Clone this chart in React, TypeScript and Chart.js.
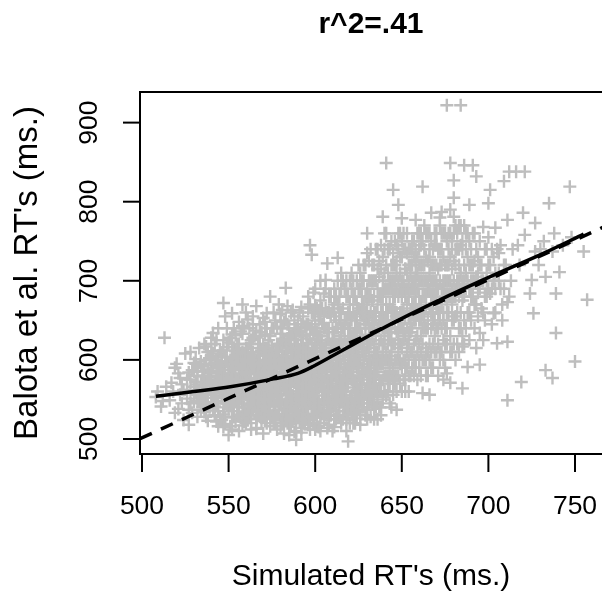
import React, { useEffect, useRef } from "react";
import { Chart, registerables } from "chart.js";

Chart.register(...registerables);

const titleText = "r^2=.41";
const xAxisTitle = "Simulated RT's (ms.)";
const yAxisTitle = "Balota et al. RT's (ms.)";
const xTicks = [500, 550, 600, 650, 700, 750];
const yTicks = [500, 600, 700, 800, 900];
const xRange = [498.85, 767.9];
const yRange = [481, 938.7];

// lowess smooth (solid)
const lowessCurve: [number, number][] = [
  [508, 554], [530, 560], [551, 566], [576, 576], [590, 583], [599, 592],
  [614, 610], [634, 634], [647, 649], [675, 679], [704, 708], [733, 736], [755, 759],
];

// reference line (dashed)
const identityLine: [number, number][] = [[498.85, 500.3], [767.9, 769.4]];

// word RTs: simulated (x) vs Balota et al. (y) — outer part of the cloud
const wordPointsOuter: [number, number][] = [
  [508,553],[513,628],[511,541],[514,566],[509,560],[512,548],
  [519,533],[521,583],[524,524],[517,571],[522,556],[520,595],[523,545],[518,560],[525,608],[516,549],[522,577],[524,562],[519,590],[521,538],[523,569],
  [527,518],[528,575],[528,610],[530,547],[532,590],[526,562],[534,572],[529,533],[531,601],[533,555],[527,584],[535,540],[530,566],[532,528],[534,598],[526,551],[529,587],[531,560],[533,615],[528,545],[535,579],[530,596],[532,569],[527,537],[534,551],
  [537,617],[537,528],[541,634],[544,516],[536,560],[538,588],[540,546],[542,573],[539,602],[543,555],[545,590],[536,534],[538,571],[540,611],[542,541],[544,567],[539,583],[541,552],[543,600],[537,545],[545,575],[536,595],[538,523],[540,563],[542,620],[544,548],[539,578],[541,536],[543,586],[545,559],[537,571],[540,593],[542,530],[544,604],[538,556],
  [547,672],[552,659],[553,640],[550,505],[551,516],[546,580],[548,545],[549,598],[551,562],[553,528],[554,611],[546,553],[547,625],[548,570],[550,538],[552,587],[554,550],[555,575],[546,607],[548,519],[549,560],[550,592],[551,544],[553,578],[554,631],[555,541],[546,566],[547,531],[549,616],[550,572],[551,600],[552,548],[553,565],[555,597],[546,524],[548,587],[549,554],[551,583],[552,512],[553,604],[554,569],[547,591],[550,557],[552,535],[555,620],
  [561,651],[558,643],[557,528],[556,578],[560,556],[562,600],[564,539],[559,585],[563,566],[556,613],[557,551],[558,595],[559,522],[560,574],[561,609],[562,545],[563,588],[564,628],[565,561],[556,540],[557,583],[558,565],[559,605],[560,532],[561,571],[562,620],[563,550],[564,593],[565,577],[556,596],[557,568],[558,517],[559,557],[560,615],[561,543],[562,582],[563,535],[564,569],[565,602],[556,555],[558,633],[559,578],[560,591],[561,526],[562,559],[563,610],[564,547],[565,586],[557,600],[566,513],
  [570,653],[572,659],[566,514],[574,516],[567,575],[568,598],[569,545],[570,620],[571,562],[572,584],[573,533],[574,607],[575,570],[566,590],[567,552],[568,528],[569,612],[570,578],[571,540],[572,600],[573,566],[574,591],[575,548],[566,637],[567,583],[568,560],[569,523],[570,594],[571,615],[572,551],[573,578],[574,536],[575,603],[566,565],[567,607],[568,542],[569,588],[570,556],[571,632],[572,520],[573,596],[574,572],[575,585],[566,548],[567,530],[568,580],[569,565],[570,541],[571,598],[572,571],[573,625],[574,558],[575,529],[568,645],[573,548],
  [583,691],[581,663],[582,507],[576,555],[577,590],[578,620],[579,537],[580,574],[581,601],[582,562],[583,545],[584,612],[585,580],[576,527],[577,567],[578,598],[579,550],[580,633],[581,583],[582,524],[583,592],[584,557],[585,640],[576,610],[577,541],[578,575],[579,602],[580,516],[581,569],[582,623],[583,536],[584,586],[585,560],[576,585],[577,650],[578,548],[579,578],[580,592],[581,532],[582,604],[583,571],[584,540],[585,597],[576,567],[577,520],[578,612],[579,562],[580,546],[581,640],[582,580],[583,556],[584,627],[585,531],[579,670],[584,520],[577,600],[580,560],[582,589],[585,548],[578,530],
  [587,663],[592,667],[589,499],[588,509],[586,582],[587,545],[588,610],[589,566],[590,527],[591,598],[592,553],[593,630],[594,575],[595,540],[586,604],[587,522],[588,571],[589,640],[590,590],[591,548],[592,618],[593,562],[594,528],[595,596],[586,556],[587,590],[588,536],[589,583],[590,650],[591,565],[592,514],[593,605],[594,551],[595,621],[586,630],[587,574],[588,550],[589,600],[590,537],[591,580],[592,593],[593,543],[594,612],[595,568],[586,519],[587,612],[588,588],[589,530],[590,560],[591,635],[592,575],[593,520],[594,590],[595,555],[586,570],[588,625],[590,608],[592,540],[594,560],[586,545],[589,552],[591,522],[593,585],[595,645],[590,575],
  [597,745],[598,733],[600,669],[596,620],[601,516],[605,684],[603,700],[596,560],[597,590],[598,540],[599,612],[600,575],[601,548],[602,630],[603,566],[604,595],[605,527],[596,580],[597,525],[598,605],[599,558],[600,640],[601,590],[602,535],[603,618],[604,550],[605,572],[596,598],[597,563],[598,575],[599,520],[600,603],[601,545],[602,587],[603,655],[604,610],[605,560],[596,538],[597,627],[598,552],[599,588],[600,530],[601,622],[602,568],[603,540],[604,580],[605,602],[596,645],[597,545],[598,660],[599,575],[600,555],[601,600],[602,515],[603,583],[604,532],[605,640],[599,685],[601,570],[603,510],[597,608],[604,665],[600,595],[602,548],[598,585],
  [607,722],[606,701],[613,729],[607,514],[606,550],[607,590],[608,625],[609,565],[610,540],[611,608],[612,580],[613,530],[614,650],[615,595],[606,620],[607,560],[608,545],[609,600],[610,575],[611,525],[612,640],[613,585],[614,555],[615,615],[606,580],[607,640],[608,595],[609,535],[610,620],[611,560],[612,545],[613,605],[614,575],[615,520],[606,530],[607,605],[608,570],[609,655],[610,590],[611,580],[612,610],[613,550],[614,595],[615,565],[606,665],[608,518],[609,585],[610,560],[611,690],[612,525],[613,670],[614,540],[615,630],[606,600],[608,680],[610,510],[612,575],[614,610],[607,575],[609,548],[611,635],[613,565],[615,548],[610,640],[612,595],
  [615,710],[619,497],[624,526],[616,560],[617,600],[618,545],[619,625],[620,580],[621,530],[622,660],[623,595],[624,570],[625,615],[616,640],[617,535],[618,610],[619,570],[620,550],[621,600],[622,520],[623,640],[624,590],[625,555],[616,585],[617,570],[618,680],[619,545],[620,610],[621,575],[622,590],[623,535],[624,650],[625,600],[616,525],[617,625],[618,560],[619,595],[620,640],[621,555],[622,615],[623,570],[624,545],[625,580],[616,605],[617,555],[618,590],[619,660],[620,520],[621,690],[622,565],[623,610],[624,620],[625,540],[617,650],[619,580],[621,630],[623,550],[625,665],[618,525],[620,595],[622,545],[624,700],[616,575],[620,670],[623,595],
  [630,760],[632,528],[626,640],[627,580],[628,555],[629,605],[630,690],[631,570],[632,620],[633,545],[634,595],[635,660],[626,530],[627,615],[628,670],[629,560],[630,595],[631,640],[632,580],[633,625],[634,555],[635,600],[626,600],[627,550],[628,590],[629,645],[630,540],[631,605],[632,660],[633,575],[634,620],[635,540],[626,570],[627,680],[628,625],[629,530],[630,615],[631,555],[632,590],[633,700],[634,570],[635,630],[626,660],[627,590],[628,540],[629,610],[630,570],[631,725],[632,550],[633,600],[634,645],[635,585],[626,620],[628,700],[630,650],[632,640],[634,525],[627,630],[629,585],[631,590],[633,655],[635,560],[628,575],[630,525],[634,680],
  [641,849],[645,815],[639,781],[636,740],[645,556],[637,560],[638,600],[639,640],[640,580],[641,690],[642,620],[643,545],[644,660],[636,610],[637,650],[638,570],[639,595],[640,710],[641,555],[642,635],[643,590],[644,580],[645,620],[636,545],[637,595],[638,680],[639,620],[640,560],[641,610],[642,575],[643,700],[644,540],[645,650],[636,670],[637,620],[638,540],[639,660],[640,630],[641,580],[642,690],[643,605],[644,625],[645,590],[636,585],[637,705],[638,625],[639,550],[640,600],[641,650],[642,560],[643,640],[644,600],[645,680],[636,525],[638,650],[640,740],[642,600],[644,720],[637,575],[639,700],
  [647,537],[648,796],[650,779],[646,720],[647,600],[648,650],[649,570],[650,700],[651,625],[652,680],[653,590],[654,655],[655,610],[646,580],[647,690],[648,620],[649,660],[650,595],[651,740],[652,560],[653,640],[654,700],[655,580],[646,640],[647,660],[648,580],[649,620],[650,640],[651,600],[652,715],[653,670],[654,600],[655,690],[646,600],[647,560],[648,700],[649,730],[650,560],[651,665],[652,630],[653,610],[654,560],[655,645],[646,680],[648,610],[650,680],[652,590],[654,635],[647,635],[649,595],[651,575],[653,735],[655,720],[650,615],[652,655],
  [658,777],[662,819],[662,558],[666,556],[656,690],[657,620],[658,650],[659,710],[660,600],[661,670],[662,640],[663,740],[664,615],[665,690],[656,590],[657,730],[658,680],[659,630],[660,720],[661,580],[662,700],[663,655],[664,760],[665,610],[656,640],[657,670],[658,600],[659,690],[660,650],[661,745],[662,620],[663,680],[664,640],[665,725],[656,740],[657,580],[658,710],[659,575],[660,680],[661,630],[663,600],[664,700],[665,650],[656,660],[658,625],[660,590],[662,680],[664,580],[657,700],[661,700],
  [667,786],[673,787],[666,600],[667,680],[668,720],[669,650],[670,745],[671,620],[672,700],[673,670],[674,730],[675,640],[666,710],[667,640],[668,590],[669,760],[670,690],[671,660],[672,740],[673,610],[674,690],[675,720],[666,665],[667,750],[668,680],[669,630],[670,610],[671,715],[672,650],[673,760],[674,660],[675,590],[666,740],[668,645],[670,665],[672,600],[674,625],[669,700],[671,580],[673,720],[675,680],[667,610],[670,720],[672,770],[674,575],
  [676,922],[684,922],[678,849],[680,827],[680,805],[680,781],[678,571],[676,583],[685,564],[676,680],[677,740],[678,700],[679,650],[680,725],[681,690],[682,760],[683,640],[684,710],[685,675],[676,720],[677,660],[678,760],[679,610],[680,680],[681,740],[682,620],[683,700],[684,745],[685,630],[676,640],[678,630],[679,715],[681,655],[682,690],[683,770],[684,660],[677,700],[679,750],[681,600],[683,610],
  [686,846],[691,846],[693,832],[689,796],[688,591],[695,594],[685,617],[686,700],[687,740],[688,660],[689,720],[690,680],[691,760],[692,640],[693,705],[694,730],[686,650],[687,690],[688,760],[689,625],[690,740],[691,700],[692,670],[693,615],[694,685],[695,750],[690,650],[686,770],[692,725],[694,655],
  [697,768],[701,815],[700,798],[704,767],[697,625],[695,634],[705,621],[703,659],[701,684],[696,700],[698,740],[699,680],[700,720],[702,690],[703,730],[704,710],[696,665],[698,650],[700,755],[702,645],[704,690],[699,710],
  [712,838],[709,826],[711,777],[711,549],[711,673],[711,623],[706,700],[707,745],[708,670],[710,720],[713,700],[714,740],[706,735],[709,690],
  [716,838],[721,838],[720,786],[717,745],[721,758],[719,572],[725,701],[726,659],[724,684],[718,720],
  [727,773],[727,737],[733,705],[733,587],[735,798],[730,740],[729,720],[732,750],
  [737,737],[737,577],[739,684],[739,634],[741,711],[738,760],[743,745],
  [747,819],[750,598],[755,737],[757,676],[748,755],
];

// word RTs — dense core of the cloud
const wordPointsCore: [number, number][] = [
  [531,572],[533,548],[535,586],[537,563],[539,540],[531,595],[533,560],[535,553],[537,600],[539,575],[532,580],[534,537],[536,568],[538,610],[540,585],[532,556],[534,592],[536,545],[538,566],[540,605],
  [541,568],[542,596],[543,545],[544,580],[545,612],[546,558],[547,540],[548,603],[549,575],[550,622],[541,590],[542,552],[543,625],[544,535],[545,563],[546,598],[547,577],[548,528],[549,640],[550,583],[541,608],[543,570],[545,528],[547,612],[549,545],
  [551,574],[552,602],[553,550],[554,590],[555,531],[556,620],[557,574],[558,550],[559,640],[560,600],[551,628],[552,566],[553,590],[554,522],[555,608],[556,565],[557,636],[558,582],[559,540],[560,566],[551,545],[552,620],[553,612],[554,575],[555,556],[556,530],[557,593],[558,610],[559,568],[560,520],
  [561,598],[562,570],[563,625],[564,555],[565,540],[566,600],[567,620],[568,570],[569,635],[570,528],[561,560],[562,640],[563,520],[564,610],[565,592],[566,575],[567,545],[568,615],[569,582],[570,605],[561,585],[562,530],[563,575],[564,645],[565,630],[566,530],[567,595],[568,555],[569,555],[570,570],[561,615],[563,600],[565,552],[567,562],[569,528],
  [571,580],[572,615],[573,545],[574,630],[575,560],[576,640],[577,580],[578,555],[579,620],[580,600],[571,550],[572,535],[573,612],[574,585],[575,618],[576,545],[577,612],[578,590],[579,530],[580,545],[571,648],[572,598],[573,562],[574,550],[575,590],[576,598],[577,528],[578,642],[579,595],[580,620],[571,525],[572,568],[573,590],[574,598],[575,640],[576,520],[577,560],[578,568],[579,548],[580,658],
  [581,610],[582,540],[583,620],[584,600],[585,570],[586,595],[587,555],[588,640],[589,580],[590,545],[581,550],[582,648],[583,585],[584,530],[585,615],[586,540],[587,632],[588,575],[589,615],[590,620],[581,625],[582,595],[583,525],[584,645],[585,585],[586,660],[587,528],[588,598],[589,545],[590,595],[581,575],[582,570],[583,605],[584,568],[585,520],[586,615],[587,580],[588,530],[589,625],[590,530],[583,650],[585,630],[587,600],[589,510],[590,640],
  [591,612],[592,590],[593,655],[594,540],[595,610],[596,575],[597,640],[598,620],[599,530],[600,650],[591,585],[592,630],[593,570],[594,600],[595,525],[596,665],[597,555],[598,530],[599,632],[600,620],[591,550],[592,560],[593,532],[594,642],[595,578],[596,590],[597,512],[598,642],[599,600],[600,540],[591,660],[592,605],[593,598],[594,585],[595,632],[596,550],[597,575],[598,565],[599,545],[600,585],[591,530],[592,525],[593,615],[594,520],[595,592],[596,610],[597,670],[598,600],[599,660],[600,512],
  [601,635],[602,600],[603,675],[604,560],[605,615],[606,640],[607,545],[608,605],[609,680],[610,600],[601,560],[602,650],[603,595],[604,625],[605,540],[606,585],[607,660],[608,560],[609,620],[610,550],[601,610],[602,580],[603,528],[604,645],[605,590],[606,560],[607,625],[608,640],[609,530],[610,665],[601,528],[602,660],[603,630],[604,590],[605,655],[606,615],[607,600],[608,535],[609,585],[610,625],[601,665],[602,545],[603,605],[604,575],[605,545],[606,690],[607,535],[608,660],[609,570],[610,580],
  [611,655],[612,620],[613,700],[614,590],[615,640],[616,620],[617,580],[618,650],[619,610],[620,660],[611,590],[612,555],[613,640],[614,625],[615,575],[616,665],[617,640],[618,540],[619,680],[620,545],[611,545],[612,680],[613,600],[614,680],[615,560],[616,550],[617,690],[618,620],[619,540],[620,625],[611,620],[612,650],[613,530],[614,565],[615,660],[616,700],[617,595],[618,575],[619,640],[620,585],[611,670],[612,530],[613,620],[614,660],[615,690],[616,530],[617,545],[618,700],[619,530],[620,700],
  [621,650],[622,700],[623,680],[624,600],[625,640],[626,690],[627,610],[628,650],[629,720],[630,580],[621,590],[622,630],[623,560],[624,670],[625,720],[626,580],[627,660],[628,600],[629,560],[630,670],[621,545],[622,600],[623,625],[624,560],[625,590],[626,640],[627,700],[628,545],[629,680],[630,625],[621,710],[622,575],[623,655],[624,635],[625,560],[626,550],[627,565],[628,720],[629,630],[630,555],[621,615],[622,680],[623,520],[624,605],[625,690],[626,710],[627,540],[628,610],[629,660],[630,735],
  [631,680],[632,700],[633,640],[634,720],[635,610],[636,690],[637,640],[638,715],[639,575],[640,650],[631,620],[632,600],[633,580],[634,660],[635,700],[636,560],[637,680],[638,595],[639,680],[640,620],[631,545],[632,740],[633,675],[634,610],[635,570],[636,640],[637,540],[638,660],[639,730],[640,690],[631,700],[632,565],[633,720],[634,580],[635,740],[636,600],[637,725],[638,560],[639,610],[640,560],[631,655],[632,680],[633,560],[634,700],[635,650],[636,715],[637,600],[638,745],[639,655],[640,760],
  [641,720],[642,660],[643,740],[644,690],[645,720],[646,660],[647,710],[648,740],[649,690],[650,620],[641,640],[642,710],[643,670],[644,640],[645,700],[646,620],[647,745],[648,680],[649,600],[650,730],[641,600],[642,740],[643,625],[644,750],[645,665],[646,750],[647,580],[648,635],[649,710],[650,660],[641,760],[642,580],[643,690],[644,700],[645,570],[646,700],[647,655],[648,760],[649,640],[650,750],[641,670],[642,645],[643,570],[644,610],[645,735],[646,570],[647,725],[648,600],[649,760],[650,590],
  [651,700],[652,740],[653,690],[654,720],[655,660],[656,720],[657,750],[658,700],[659,660],[660,740],[651,640],[652,600],[653,710],[654,680],[655,740],[656,610],[657,650],[658,740],[659,730],[660,700],[651,760],[652,690],[653,620],[654,580],[655,710],[656,700],[657,600],[658,660],[659,610],[660,620],[651,690],[652,715],[653,760],[654,740],[655,635],[656,750],[657,690],[658,590],[659,760],[660,665],[652,575],[654,620],[656,670],[658,725],[660,760],
  [661,720],[662,750],[663,700],[664,730],[665,760],[666,690],[667,720],[668,740],[669,680],[670,700],[661,650],[662,660],[663,720],[664,680],[665,640],[666,730],[667,700],[668,660],[669,745],[670,640],[661,760],[662,600],[663,770],[664,665],[665,700],[666,620],[667,660],[668,700],[669,610],[670,760],[661,610],[662,720],[663,640],[664,600],[665,580],[666,760],[667,590],[668,620],[669,720],[670,675],
  [671,740],[672,720],[673,690],[674,760],[675,700],[676,750],[677,720],[678,680],[679,740],[680,700],[671,690],[672,660],[673,740],[674,700],[675,760],[676,660],[677,680],[678,730],[679,690],[680,650],[671,640],[672,780],[673,640],[674,650],[675,620],[676,700],[677,760],[678,610],[679,670],[680,760],[672,610],[674,600],[676,620],[678,790],[680,620],
  [681,720],[682,700],[683,740],[684,690],[685,750],[686,720],[687,710],[688,700],[689,750],[690,720],[681,770],[682,660],[683,680],[684,640],[685,700],[686,680],[687,760],[688,730],[689,660],[690,700],[681,680],[683,720],[685,740],[687,640],[689,690],[682,740],[684,770],[686,620],
  [691,720],[692,700],[693,740],[694,710],[695,690],[696,720],[697,700],[698,680],[699,740],[700,690],[691,680],[693,670],[695,720],[697,660],[699,700],[692,760],
  [701,720],[703,700],[705,740],[707,690],[709,720],[702,740],[704,660],[706,710],[708,650],[712,680],
];

// word RTs — extra points on the lower and upper-left edges
const wordPointsEdge: [number, number][] = [
  [543,522],[547,515],[552,527],[556,510],[559,533],[563,512],[566,525],[570,507],[574,530],[578,512],[581,520],[585,505],[588,535],[592,508],[596,518],[599,527],[603,520],[607,530],[611,515],[614,527],[618,510],[622,533],[626,518],[630,537],[634,540],[638,530],
  [536,620],[540,628],[544,640],[548,655],[552,632],[556,648],[560,660],[564,655],[568,630],[572,640],[576,660],[580,648],[584,668],[588,655],[592,645],[596,680],[600,690],[558,670],[566,668],[574,680],
  [526,575],[528,560],[530,585],[532,548],[534,565],[536,580],[538,545],[540,572],[542,558],[544,592],[546,573],[548,560],[550,548],[552,576],[554,560],[556,588],[558,540],[560,582],
];

const wordPoints: [number, number][] = [...wordPointsOuter, ...wordPointsCore, ...wordPointsEdge];

const FONT = '"Liberation Sans", Arial, Helvetica, sans-serif';

const axesPlugin = {
  id: "rStyleAxes",
  afterDraw(chart: any) {
    const { ctx, chartArea: a, scales } = chart;
    const x = scales.x;
    const y = scales.y;
    ctx.save();
    ctx.strokeStyle = "#000";
    ctx.fillStyle = "#000";
    ctx.lineWidth = 2;
    // plot box
    ctx.beginPath();
    ctx.moveTo(a.right + 4, a.top);
    ctx.lineTo(a.left, a.top);
    ctx.lineTo(a.left, a.bottom);
    ctx.lineTo(a.right + 4, a.bottom);
    ctx.stroke();
    // x axis ticks and labels
    ctx.font = `26.5px ${FONT}`;
    ctx.textAlign = "center";
    ctx.textBaseline = "middle";
    xTicks.forEach((v) => {
      const px = x.getPixelForValue(v);
      ctx.beginPath();
      ctx.moveTo(px, a.bottom);
      ctx.lineTo(px, a.bottom + 18);
      ctx.stroke();
      ctx.fillText(String(v), px, a.bottom + 53);
    });
    // y axis ticks and labels
    yTicks.forEach((v) => {
      const py = y.getPixelForValue(v);
      ctx.beginPath();
      ctx.moveTo(a.left - 17, py);
      ctx.lineTo(a.left, py);
      ctx.stroke();
      ctx.save();
      ctx.translate(a.left - 50, py);
      ctx.rotate(-Math.PI / 2);
      ctx.fillText(String(v), 0, 0);
      ctx.restore();
    });
    // axis titles
    const cx = 371;
    ctx.font = `30px ${FONT}`;
    ctx.fillText(xAxisTitle, cx, 577);
    ctx.save();
    ctx.font = `33px ${FONT}`;
    ctx.translate(28, (a.top + a.bottom) / 2);
    ctx.rotate(-Math.PI / 2);
    ctx.fillText(yAxisTitle, 0, 0);
    ctx.restore();
    // main title
    ctx.font = `bold 30px ${FONT}`;
    ctx.fillText(titleText, cx, 25);
    ctx.restore();
  },
};

export default function App() {
  const canvasRef = useRef<HTMLCanvasElement | null>(null);

  useEffect(() => {
    const canvas = canvasRef.current;
    if (!canvas) return;
    const chart = new Chart(canvas, {
      type: "scatter",
      data: {
        datasets: [
          {
            type: "line",
            label: "lowess",
            data: lowessCurve.map(([px, py]) => ({ x: px, y: py })),
            borderColor: "#000",
            borderWidth: 3.5,
            pointRadius: 0,
            fill: false,
            cubicInterpolationMode: "monotone",
            order: 0,
          } as any,
          {
            type: "line",
            label: "identity",
            data: identityLine.map(([px, py]) => ({ x: px, y: py })),
            borderColor: "#000",
            borderWidth: 3.5,
            borderDash: [13, 10],
            pointRadius: 0,
            fill: false,
            order: 1,
          } as any,
          {
            type: "scatter",
            label: "words",
            data: wordPoints.map(([px, py]) => ({ x: px, y: py })),
            pointStyle: "cross",
            pointRadius: 6.5,
            pointBorderWidth: 2.4,
            borderColor: "#BEBEBE",
            backgroundColor: "#BEBEBE",
            pointHoverRadius: 6.5,
            order: 2,
          } as any,
        ],
      },
      options: {
        animation: false,
        responsive: false,
        devicePixelRatio: 1,
        events: [],
        layout: { padding: { left: 140, top: 92, right: 94, bottom: 137 } },
        scales: {
          x: { type: "linear", min: xRange[0], max: xRange[1], display: false },
          y: { type: "linear", min: yRange[0], max: yRange[1], display: false },
        },
        plugins: {
          legend: { display: false },
          tooltip: { enabled: false },
          title: { display: false },
        },
      },
      plugins: [axesPlugin],
    });
    return () => chart.destroy();
  }, []);

  return (
    <div
      style={{
        position: "absolute",
        left: 0,
        top: 0,
        width: 602,
        height: 591,
        overflow: "hidden",
        background: "#fff",
      }}
    >
      <canvas ref={canvasRef} width={700} height={591} style={{ width: 700, height: 591, display: "block" }} />
    </div>
  );
}
